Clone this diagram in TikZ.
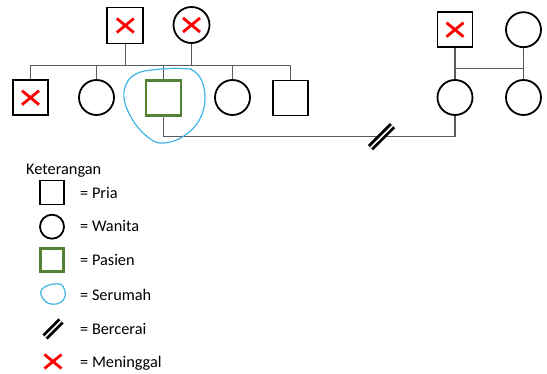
\documentclass[tikz,border=0pt]{standalone}
\usepackage{fontspec}
\setmainfont{Carlito}
\definecolor{linkgray}{RGB}{90,90,90}
\definecolor{patgreen}{RGB}{84,130,53}
\definecolor{homeblue}{RGB}{64,180,230}
\definecolor{xred}{RGB}{255,0,0}
\tikzset{
  person/.style={draw=black, line width=1.8pt, inner sep=0pt, fill=white},
  male/.style={person, rectangle, minimum size=35pt},
  female/.style={person, circle, minimum size=35pt},
  patient/.style={male, draw=patgreen, line width=2.3pt},
  deceased/.style={path picture={
    \draw[xred, line width=2.8pt]
      ([shift={(-8.5pt,-7pt)}]path picture bounding box.center) -- ([shift={(8.5pt,7pt)}]path picture bounding box.center)
      ([shift={(-8.5pt,7pt)}]path picture bounding box.center) -- ([shift={(8.5pt,-7pt)}]path picture bounding box.center);}},
  link/.style={draw=linkgray, line width=1.3pt},
  divorce/.style={draw=black, double=white, line width=2.9pt, double distance=1.6pt},
  home/.style={draw=homeblue, line width=1.2pt},
  legendtext/.style={anchor=base west, inner sep=0pt, font=\fontsize{16.3}{19}\selectfont},
}
\begin{document}
\begin{tikzpicture}[x=1pt, y=-1pt]
\useasboundingbox (0,0) rectangle (547,374);

% patient's parents
\node[male, deceased, minimum size=36pt] (gf) at (125.3,25.5) {};
\node[female, deceased, minimum size=36pt] (gm) at (191.5,25) {};

% sibship
\node[male, deceased] (c1) at (30.5,97.7) {};
\node[female] (c2) at (96.5,97.5) {};
\node[patient] (c3) at (163.5,98) {};
\node[female] (c4) at (232.5,97.5) {};
\node[male] (c5) at (290.5,98) {};

\coordinate (sib) at (0,65.3);
\draw[link] (gf.south) -- (gf.south |- sib);
\draw[link] (gm.south) -- (gm.south |- sib);
\draw[link] (c1.north |- sib) -- (c5.north |- sib);
\foreach \c in {c1,c2,c3,c4,c5}
  \draw[link] (\c.north) -- (\c.north |- sib);

% former wife and her family
\node[male, deceased] (rgf) at (455,29.7) {};
\node[female] (rgm) at (523.5,29.7) {};
\node[female] (w) at (455,97.5) {};
\node[female] (sis) at (523.5,97.5) {};

\coordinate (rsib) at (0,68.3);
\draw[link] (rgf.south) -- (w.north);
\draw[link] (rgm.south) -- (sis.north);
\draw[link] (rgf.south |- rsib) -- (rgm.south |- rsib);

% marriage line with divorce mark
\coordinate (mar) at (0,136.7);
\draw[link] (c3.south) -- (c3.south |- mar) -- (w.south |- mar) -- (w.south);
\coordinate (div) at (381.5,136.7);
\draw[divorce] ([shift={(-11,11)}]div) -- ([shift={(11,-11)}]div);

% shared household of the patient
\draw[home] plot[smooth cycle, tension=0.6] coordinates {
  (190,69) (175,68.3) (158.3,69.3) (141.7,71.7) (130,78.3) (124.3,90) (125,103.3)
  (131.7,118.3) (141.7,131.7) (155,141.7) (166.7,142.7) (180,138.3) (193.3,128.3)
  (201.7,115) (205,100) (203.3,85) (198.3,75) (191,69.3)};

% legend
\node[legendtext] (kt) at (26,175) {Keterangan};

\node[person, rectangle, minimum size=24pt] (lm) at (52,192.5) {};
\node[legendtext] (tm) at (80,198.3) {= Pria};

\node[person, circle, minimum size=24pt] (lf) at (52,226.7) {};
\node[legendtext] (tf) at (80,231.7) {= Wanita};

\node[person, rectangle, draw=patgreen, line width=2.3pt, minimum size=23pt] (lp) at (52,260) {};
\node[legendtext] (tp) at (80,265.7) {= Pasien};

\draw[home] plot[smooth cycle, tension=0.6] coordinates {
  (45,286.7) (53.3,284) (61.7,285) (65.3,293.3) (63.3,300) (56.7,304)
  (48.3,303.3) (42.7,298.3) (40.7,291.7)};
\node[legendtext] (th) at (80,300.7) {= Serumah};

\coordinate (ld) at (53,329);
\draw[divorce] ([shift={(-8,8)}]ld) -- ([shift={(8,-8)}]ld);
\node[legendtext] (td) at (80,334.3) {= Bercerai};

\node[deceased, minimum size=20pt, inner sep=0pt] (lx) at (53,361.5) {};
\node[legendtext] (tx) at (80,367.5) {= Meninggal};
\end{tikzpicture}
\end{document}
